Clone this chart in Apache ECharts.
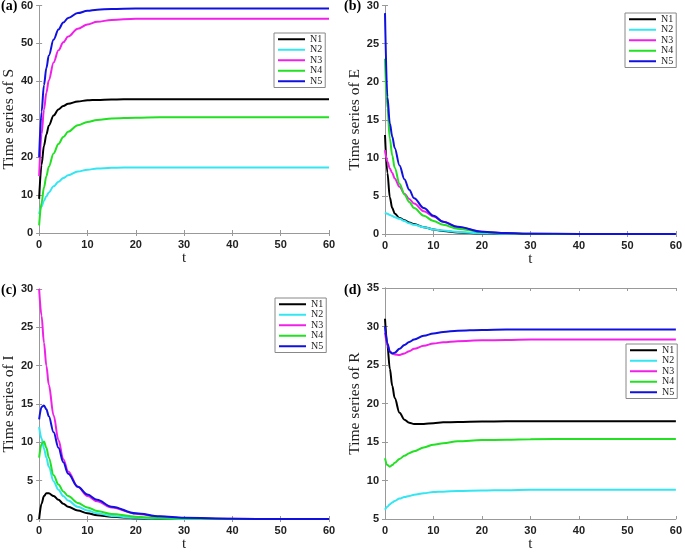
<!DOCTYPE html>
<html><head><meta charset="utf-8">
<script src="https://cdn.jsdelivr.net/npm/echarts@6/dist/echarts.min.js"></script>
<style>html,body{margin:0;padding:0;background:#fff}#c{width:685px;height:553px}</style>
</head><body><div id="c"></div>
<script>
// time points
const T = [0,0.5,1,1.5,2,3,4,5,6,8,10,12,15,20,25,30,40,50,60];
const names = ['N1','N2','N3','N4','N5'];
const colors = ['#000000','#33e6f2','#f020e8','#22e022','#1010e0'];
// (a) S
const S_N1 = [9,18,23,26,28.3,31,32.6,33.5,34.1,34.7,35.0,35.1,35.2,35.3,35.3,35.3,35.3,35.3,35.3];
const S_N2 = [5,7,8.5,9.7,10.7,12.3,13.5,14.5,15.2,16.2,16.7,17,17.2,17.3,17.3,17.3,17.3,17.3,17.3];
const S_N3 = [15,26,32.5,37,40.3,45,48.2,50.3,51.8,53.9,55.0,55.7,56.2,56.5,56.5,56.5,56.5,56.5,56.5];
const S_N4 = [2,8,12,15,17.5,21,23.5,25.3,26.7,28.4,29.3,29.8,30.2,30.4,30.5,30.5,30.5,30.5,30.5];
const S_N5 = [20,32,39,43.5,46.8,51,53.7,55.5,56.7,58,58.6,58.9,59.1,59.2,59.2,59.2,59.2,59.2,59.2];
// (b) E
const E_N1 = [13,8,4.8,3.4,2.7,2.1,1.8,1.5,1.3,0.9,0.6,0.4,0.2,0.05,0.02,0,0,0,0];
const E_N2 = [2.8,2.65,2.5,2.35,2.2,2.0,1.7,1.4,1.2,0.9,0.6,0.45,0.25,0.1,0.03,0,0,0,0];
const E_N3 = [11,9.5,8.6,8,7.3,6.2,5.3,4.6,4,3.0,2.3,1.6,0.9,0.3,0.1,0.03,0,0,0];
const E_N4 = [23,16.5,12.5,10.3,8.7,6.6,5.2,4.2,3.4,2.4,1.7,1.2,0.7,0.25,0.1,0.03,0,0,0];
const E_N5 = [29,18,14.5,12.8,11.3,9.0,7.2,5.8,4.7,3.4,2.4,1.6,0.95,0.3,0.12,0.04,0,0,0];
// (c) I
const I_N1 = [0,2.0,3.0,3.35,3.35,3.0,2.5,2.0,1.6,1.1,0.75,0.5,0.3,0.1,0.03,0,0,0,0];
const I_N2 = [12,10.5,9.2,8,6.8,4.9,3.8,3.0,2.4,1.6,1.1,0.75,0.4,0.15,0.05,0,0,0,0];
const I_N3 = [30,26.5,23,20,17.5,13.5,10.3,7.8,6.2,4.2,3.0,2.3,1.5,0.7,0.3,0.12,0.02,0,0];
const I_N4 = [8,9.8,10.1,9.3,8.0,5.7,4.5,3.6,3.0,2.1,1.5,1.05,0.65,0.3,0.12,0.05,0,0,0];
const I_N5 = [13,14.6,14.8,14.3,13.4,11.3,9.3,7.4,5.9,4.2,3.2,2.5,1.6,0.75,0.35,0.15,0.03,0,0];
// (d) R
const R_N1 = [31,27.5,24.5,22.3,20.7,18.8,17.9,17.5,17.35,17.35,17.45,17.55,17.6,17.65,17.7,17.7,17.7,17.7,17.7];
const R_N2 = [6.2,6.6,6.9,7.15,7.35,7.65,7.85,8.0,8.15,8.35,8.5,8.55,8.65,8.7,8.75,8.8,8.8,8.8,8.8];
const R_N3 = [29.2,27.6,26.8,26.5,26.35,26.3,26.5,26.8,27.1,27.5,27.8,27.95,28.1,28.2,28.25,28.3,28.3,28.3,28.3];
const R_N4 = [12.9,12.0,11.8,12.0,12.3,12.8,13.2,13.55,13.8,14.3,14.65,14.85,15.1,15.25,15.3,15.35,15.4,15.4,15.4];
const R_N5 = [30,27.8,26.7,26.5,26.6,27.1,27.6,28.0,28.3,28.8,29.1,29.3,29.45,29.55,29.6,29.6,29.6,29.6,29.6];

const yAxesCfg = [
  {min:0,max:60,interval:10,name:'Time series of S'},
  {min:0,max:30,interval:5,name:'Time series of E'},
  {min:0,max:30,interval:5,name:'Time series of I'},
  {min:5,max:35,interval:5,name:'Time series of R'}
];
const panelData = [[S_N1,S_N2,S_N3,S_N4,S_N5],[E_N1,E_N2,E_N3,E_N4,E_N5],[I_N1,I_N2,I_N3,I_N4,I_N5],[R_N1,R_N2,R_N3,R_N4,R_N5]];
const panelLabels = ['(a)','(b)','(c)','(d)'];

const grids = [
  {left:35,top:4,width:294,height:229},
  {left:385,top:5,width:294,height:229},
  {left:35,top:289,width:294,height:230},
  {left:385,top:288,width:294,height:231}
];
const gray = '#999';
const serif = '"Liberation Serif","Times New Roman",serif';
const sans = '"Liberation Sans",Arial,sans-serif';
const xAxis = [], yAxis = [], series = [], legend = [], graphic = [];
grids.forEach((g,i)=>{
  xAxis.push({type:'value',gridIndex:i,min:0,max:60,interval:10,position:'bottom',
    name:'t',nameLocation:'middle',nameGap:18,nameTextStyle:{fontFamily:serif,fontSize:15,color:'#222'},
    axisLine:{lineStyle:{color:gray}},axisTick:{inside:true,length:3,lineStyle:{color:gray}},
    axisLabel:{fontFamily:sans,fontWeight:'bold',fontSize:11,color:'#222',margin:6},splitLine:{show:false}});
  xAxis.push({type:'value',gridIndex:i,min:0,max:60,interval:10,position:'top',
    axisLine:{lineStyle:{color:gray}},axisTick:{inside:true,length:3,lineStyle:{color:gray}},
    axisLabel:{show:false},splitLine:{show:false}});
  const yc = yAxesCfg[i];
  yAxis.push({type:'value',gridIndex:i,min:yc.min,max:yc.max,interval:yc.interval,position:'left',
    name:yc.name,nameLocation:'middle',nameGap:22,nameTextStyle:{fontFamily:serif,fontSize:15.5,color:'#222'},
    axisLine:{show:true,lineStyle:{color:gray}},axisTick:{show:true,inside:true,length:3,lineStyle:{color:gray}},
    axisLabel:{fontFamily:sans,fontWeight:'bold',fontSize:11,color:'#222',margin:6},splitLine:{show:false}});
  yAxis.push({type:'value',gridIndex:i,min:yc.min,max:yc.max,interval:yc.interval,position:'right',
    axisLine:{show:true,lineStyle:{color:gray}},axisTick:{show:true,inside:true,length:3,lineStyle:{color:gray}},
    axisLabel:{show:false},splitLine:{show:false}});
  panelData[i].forEach((arr,k)=>{
    series.push({type:'line',name:names[k],xAxisIndex:2*i,yAxisIndex:2*i,
      data:T.map((t,j)=>[t,arr[j]]),showSymbol:false,symbol:'none',smooth:0.35,smoothMonotone:'x',
      lineStyle:{color:colors[k],width:2},itemStyle:{color:colors[k]},z:10+k});
  });
  const lg = [{left:274,top:33},{left:625,top:13},{left:275,top:298},{left:626,top:344}][i];
  legend.push({data:names.map((n,k)=>({name:n,icon:'rect',itemStyle:{color:colors[k]}})),
    orient:'vertical',left:lg.left,top:lg.top,itemWidth:27,itemHeight:2,itemGap:0,z:30,
    itemTextGap:2,padding:[1,3,1,4],borderColor:'#888',borderWidth:1,backgroundColor:'#fff',
    textStyle:{fontFamily:serif,fontSize:10,lineHeight:10.5,color:'#222'},selectedMode:false});
  const pl = [{left:1,top:-1},{left:344,top:-1},{left:1,top:283},{left:344,top:283}][i];
  graphic.push({type:'text',left:pl.left,top:pl.top,style:{text:panelLabels[i],font:'bold 14px '+serif,fill:'#000'}});
});
const chart = echarts.init(document.getElementById('c'),null,{renderer:'canvas'});
chart.setOption({animation:false,backgroundColor:'#fff',grid:grids.map(g=>Object.assign({},g,{show:false})),
  xAxis,yAxis,series,legend,graphic});
</script></body></html>
